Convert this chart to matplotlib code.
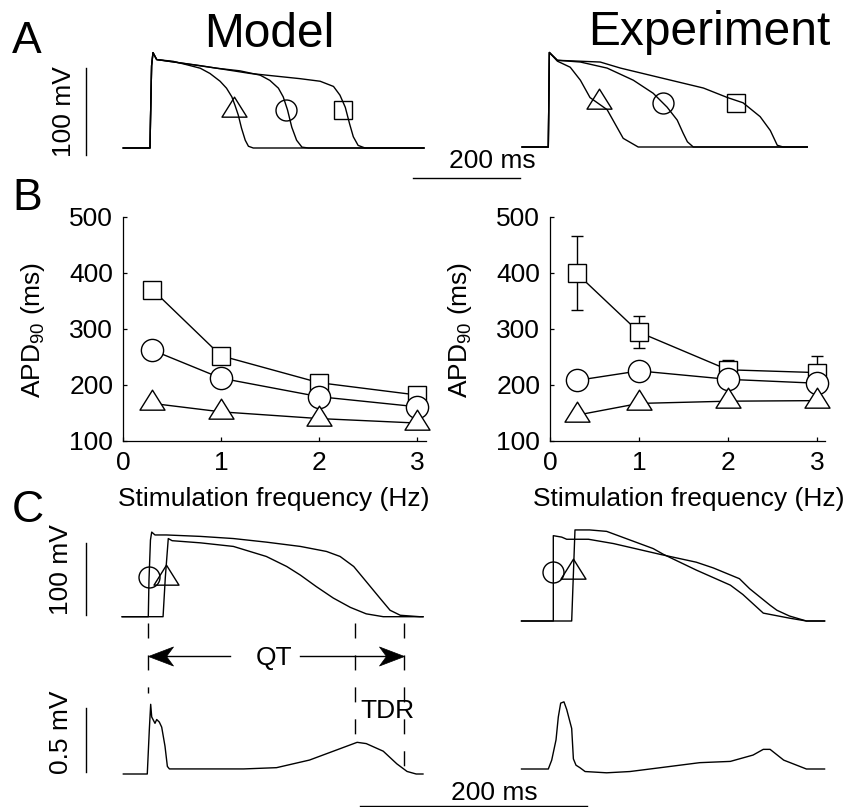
import matplotlib
matplotlib.use("Agg")
import matplotlib.pyplot as plt
from matplotlib.path import Path

plt.rcParams['font.family'] = ['Liberation Sans', 'DejaVu Sans']
plt.rcParams['mathtext.fontset'] = 'custom'
plt.rcParams['mathtext.rm'] = 'Liberation Sans'
plt.rcParams['mathtext.it'] = 'Liberation Sans:italic'
plt.rcParams['mathtext.bf'] = 'Liberation Sans:bold'
plt.rcParams['mathtext.default'] = 'regular'

# ---------------- Panel A: action potentials (time in ms, voltage in mV) ----------------
a_mod_tri_t = [-50, 0, 1, 3, 5.6, 12.5, 43, 69, 94, 112, 131, 143, 153, 159, 165, 171, 178, 184, 193, 512]
a_mod_tri_v = [-85, -85, -50, 10, 25, 17, 15, 11, 7, 1, -8, -16, -26, -36, -47, -62, -76, -83, -85, -85]
a_mod_cir_t = [-50, 0, 1, 3, 5.6, 12.5, 69, 125, 168, 206, 224, 240, 249, 257, 265, 274, 284, 296, 512]
a_mod_cir_v = [-85, -85, -50, 10, 25, 17, 12, 7, 4, -1, -7, -16, -26, -41, -61, -76, -84, -85, -85]
a_mod_sq_t = [-50, 0, 1, 3, 5.6, 12.5, 94, 187, 280, 318, 343, 355, 365, 373, 380, 389, 402, 512]
a_mod_sq_v = [-85, -85, -50, 10, 25, 17, 10, 1, -5, -8, -14, -24, -38, -57, -72, -82, -85, -85]
a_mod_mark_t = [157, 254, 361]
a_mod_mark_v = [-41, -41, -41]

a_exp_tri_t = [-49, 0, 2, 17, 41, 60, 78, 110, 140, 168, 484]
a_exp_tri_v = [-85, -85, 24, 14, 7, -8, -28, -42, -75, -85, -85]
a_exp_cir_t = [-49, 0, 2, 17, 60, 110, 159, 196, 222, 241, 252, 260, 271, 484]
a_exp_cir_v = [-85, -85, 24, 15, 13, 6, -8, -23, -39, -54, -69, -79, -85, -85]
a_exp_sq_t = [-49, 0, 2, 17, 97, 135, 209, 290, 335, 364, 396, 415, 428, 439, 484]
a_exp_sq_v = [-85, -85, 24, 15, 13, 6, -5, -17, -28, -34, -50, -66, -83, -85, -85]
a_exp_mark_t = [95, 215, 351]
a_exp_mark_v = [-33, -34, -34]

# ---------------- Panel B: APD90 vs stimulation frequency ----------------
freq = [0.3, 1, 2, 3]
b_mod_sq = [370, 252, 204, 182]
b_mod_cir = [262, 212, 179, 161]
b_mod_tri = [167, 152, 140, 132]
b_exp_sq = [399, 294, 227, 222]
b_exp_sq_err = [66, 29, 17, 30]
b_exp_cir = [208, 225, 210, 203]
b_exp_tri = [146, 167, 171, 172]

# ---------------- Panel C: transmural APs and pseudo-ECG ----------------
c_mod_cir_t = [-23, 0, 0.6, 1.9, 3, 5.9, 16, 46, 75, 104, 134, 157, 169, 181, 192, 204, 213, 222, 239, 242]
c_mod_cir_v = [-85, -85, -34, 22, 33, 29, 29, 27, 24, 19, 13, 6, -1, -15, -36, -59, -76, -83, -85, -85]
c_mod_tri_t = [-23, 13, 15, 17.6, 21, 46, 75, 104, 122, 134, 148, 163, 178, 192, 207, 242]
c_mod_tri_v = [-85, -85, -30, 24, 21, 18, 13, -1, -15, -27, -43, -59, -72, -81, -85, -85]
c_mod_mark_t = [0.9, 15.9]
c_mod_mark_v = [-30, -31]
c_mod_ecg_t = [-22, -0.9, 0.9, 2.1, 3, 5.9, 7.4, 9.7, 11.8, 14.7, 16.8, 18.6, 25, 84, 113, 142,
               166, 184, 192, 207, 219, 228, 236, 242]
c_mod_ecg_v = [0, 0, 0.35, 0.55, 0.45, 0.40, 0.43, 0.41, 0.37, 0.22, 0.06, 0.04, 0.04, 0.04, 0.05, 0.11,
               0.19, 0.25, 0.24, 0.18, 0.08, 0.02, 0, 0]

c_exp_cir_t = [-28, 0, 0, 7.4, 11.8, 31, 53, 94, 126, 141, 164, 173, 191, 197, 208, 223, 239]
c_exp_cir_v = [-85, -85, 34, 32, 29, 29, 23, 8, -3, -11, -26, -40, -63, -70, -78, -85, -85]
c_exp_tri_t = [-28, 16.2, 19.1, 32, 47, 67.5, 88, 97, 126, 156, 167, 185, 208, 223, 239]
c_exp_tri_v = [-85, -85, 42, 42, 40, 28, 16, 8, -14, -35, -48, -74, -81, -85, -85]
c_exp_mark_t = [-0.5, 17.1]
c_exp_mark_v = [-17, -17]
c_exp_ecg_t = [-28, -4.4, -1.4, 2.4, 4.4, 6.5, 9.4, 11.8, 16.2, 17.7, 20, 23.5, 28, 47, 67.5, 94,
               129, 156, 176, 185, 191, 203, 223, 239]
c_exp_ecg_v = [0, 0, 0.07, 0.23, 0.41, 0.52, 0.53, 0.47, 0.32, 0.08, 0.03, 0.01, -0.02, -0.03, -0.02, 0.01,
               0.05, 0.06, 0.11, 0.155, 0.155, 0.07, 0, 0]

# QT onset, end of earliest repolarisation, end of latest repolarisation (ms)
qt_marks = [0, 182, 225]

# ---------------- figure setup ----------------
W, H = 849, 807
fig = plt.figure(figsize=(W / 100, H / 100), dpi=100)
LW = 1.0
FS = 19

# triangle marker centred on its centroid
TRI = Path([(-0.9375, -0.5), (0.9375, -0.5), (0.0, 1.0), (0.0, 0.0)],
           [Path.MOVETO, Path.LINETO, Path.LINETO, Path.CLOSEPOLY])
# slender concave arrow heads with the tip at the origin
HEAD_L = Path([(0, 0), (1, 0.38), (0.72, 0), (1, -0.38), (0, 0)],
              [Path.MOVETO, Path.LINETO, Path.LINETO, Path.LINETO, Path.CLOSEPOLY])
HEAD_R = Path([(0, 0), (-1, 0.38), (-0.72, 0), (-1, -0.38), (0, 0)],
              [Path.MOVETO, Path.LINETO, Path.LINETO, Path.LINETO, Path.CLOSEPOLY])

A_MS, A_MV = 107 / 200, 86.7 / 100     # pixels per ms / per mV in panel A
C_MS, C_MV = 227 / 200, 71.7 / 100     # pixels per ms / per mV in panel C
C_ECG = 126.7                          # pixels per mV of pseudo-ECG


def px_axes(left, top, right, bottom):
    return fig.add_axes([left / W, 1 - bottom / H, (right - left) / W, (bottom - top) / H])


def trace_axes(box, origin_px, origin_val, px_per_x, px_per_y):
    left, top, right, bottom = box
    ax = px_axes(left, top, right, bottom)
    x0, y0 = origin_px
    xv, yv = origin_val
    ax.set_xlim(xv + (left - x0) / px_per_x, xv + (right - x0) / px_per_x)
    ax.set_ylim(yv + (y0 - bottom) / px_per_y, yv + (y0 - top) / px_per_y)
    ax.axis('off')
    ax.patch.set_alpha(0)
    return ax


def to_data(ax, xp, yp):
    return ax.transData.inverted().transform((xp, H - yp))


def fig_text(xp, yp, s, **kw):
    kw.setdefault('fontsize', FS)
    fig.text(xp / W, 1 - yp / H, s, **kw)


def trace(ax, t, v):
    ax.plot(t, v, color='k', lw=LW, clip_on=False, solid_joinstyle='round')


def open_marks(ax, t, v, kinds):
    for ti, vi, (mk, ms) in zip(t, v, kinds):
        ax.plot([ti], [vi], ls='none', marker=mk, ms=ms, mfc='none', mec='k', mew=LW, clip_on=False)


def vbar(ax, xp, yp_bottom, length):
    t0, v0 = to_data(ax, xp, yp_bottom)
    ax.plot([t0, t0], [v0, v0 + length], color='k', lw=LW, clip_on=False)


def hbar(ax, xp_left, yp, length):
    t0, v0 = to_data(ax, xp_left, yp)
    ax.plot([t0, t0 + length], [v0, v0], color='k', lw=LW, clip_on=False)


KINDS3 = [(TRI, 19.2), ('o', 15.1), ('s', 12.5)]
KINDS2 = [('o', 15.1), (TRI, 19.2)]

# ---------------- Panel A ----------------
axA1 = trace_axes((40, 40, 432, 200), (150, 148), (0, -85), A_MS, A_MV)
axA2 = trace_axes((432, 40, 845, 200), (548.3, 147), (0, -85), A_MS, A_MV)
for t, v in [(a_mod_tri_t, a_mod_tri_v), (a_mod_cir_t, a_mod_cir_v), (a_mod_sq_t, a_mod_sq_v)]:
    trace(axA1, t, v)
open_marks(axA1, a_mod_mark_t, a_mod_mark_v, KINDS3)
for t, v in [(a_exp_tri_t, a_exp_tri_v), (a_exp_cir_t, a_exp_cir_v), (a_exp_sq_t, a_exp_sq_v)]:
    trace(axA2, t, v)
open_marks(axA2, a_exp_mark_t, a_exp_mark_v, KINDS3)

vbar(axA1, 86, 155, 100)
fig_text(64, 111.7, '100 mV', rotation=90, ha='center', va='center')
hbar(axA2, 413, 178, 200)
fig_text(492, 168, '200 ms', ha='center', va='baseline')

# ---------------- Panel B ----------------
axB1 = px_axes(123, 216.7, 426, 441)
axB2 = px_axes(550, 216.7, 825, 441)
for ax in (axB1, axB2):
    ax.patch.set_alpha(0)
    ax.spines[['top', 'right']].set_visible(False)
    for s in ('left', 'bottom'):
        ax.spines[s].set_linewidth(0.9)
    ax.set_xlim(0, 3.09)
    ax.set_ylim(100, 500)
    ax.set_xticks([0, 1, 2, 3])
    ax.set_yticks([100, 200, 300, 400, 500])
    ax.tick_params(direction='in', length=3, width=0.9, labelsize=FS, pad=7)
    ax.set_xlabel('Stimulation frequency (Hz)', fontsize=FS)
    ax.xaxis.label.set_va('baseline')
    ax.set_ylabel('APD$_{90}$ (ms)', fontsize=FS)
    ax.yaxis.label.set_va('center')
    ax.yaxis.label.set_ha('center')

axB1.xaxis.set_label_coords(0.498, -0.290)
axB2.xaxis.set_label_coords(0.505, -0.290)
axB1.yaxis.set_label_coords(-0.297, 0.495)
axB2.yaxis.set_label_coords(-0.327, 0.495)

axB2.errorbar(freq, b_exp_sq, yerr=b_exp_sq_err, fmt='none', ecolor='k', elinewidth=LW,
              capsize=4, capthick=LW, clip_on=False)
for ax, series in [(axB1, (b_mod_sq, b_mod_cir, b_mod_tri)), (axB2, (b_exp_sq, b_exp_cir, b_exp_tri))]:
    for vals, (mk, ms) in zip(series, [('s', 13), ('o', 16), (TRI, 19.2)]):
        ax.plot(freq, vals, color='k', lw=LW, marker=mk, ms=ms, mfc='white', mec='k', mew=LW,
                clip_on=False)

# ---------------- Panel C ----------------
axC1 = trace_axes((40, 515, 432, 628), (148.3, 616.7), (0, -85), C_MS, C_MV)
axC2 = trace_axes((432, 515, 845, 628), (553.3, 621), (0, -85), C_MS, C_MV)
axE1 = trace_axes((40, 628, 432, 807), (148.3, 774), (0, 0), C_MS, C_ECG)
axE2 = trace_axes((432, 628, 845, 807), (553.3, 769), (0, 0), C_MS, C_ECG)

trace(axC1, c_mod_cir_t, c_mod_cir_v)
trace(axC1, c_mod_tri_t, c_mod_tri_v)
open_marks(axC1, c_mod_mark_t, c_mod_mark_v, KINDS2)
trace(axC2, c_exp_cir_t, c_exp_cir_v)
trace(axC2, c_exp_tri_t, c_exp_tri_v)
open_marks(axC2, c_exp_mark_t, c_exp_mark_v, KINDS2)
trace(axE1, c_mod_ecg_t, c_mod_ecg_v)
trace(axE2, c_exp_ecg_t, c_exp_ecg_v)

vbar(axC1, 86, 615, 100)
fig_text(61, 570, '100 mV', rotation=90, ha='center', va='center')
vbar(axE1, 86, 771.7, 0.5)
fig_text(61, 732.5, '0.5 mV', rotation=90, ha='center', va='center')
hbar(axE1, 360, 805.5, 200)
fig_text(494.5, 800, '200 ms', ha='center', va='baseline')

# dashed guides for QT interval and transmural dispersion
e_top = to_data(axE1, 0, 623)[1]
for t, yp_end in zip(qt_marks, [693, 735, 772]):
    e_end = to_data(axE1, 0, yp_end)[1]
    axE1.plot([t, t], [e_top, e_end], color='k', lw=LW, ls=(0, (10.8, 12.2)), clip_on=False)

# QT double arrow split around its label
e_qt = to_data(axE1, 0, 656)[1]
t_left = to_data(axE1, 230, 0)[0]
t_right = to_data(axE1, 300, 0)[0]
axE1.plot([qt_marks[0] + 4, t_left], [e_qt, e_qt], color='k', lw=LW, clip_on=False)
axE1.plot([t_right, qt_marks[2] - 4], [e_qt, e_qt], color='k', lw=LW, clip_on=False)
axE1.plot([qt_marks[0]], [e_qt], ls='none', marker=HEAD_L, ms=36, mfc='k', mec='k', mew=0.5, clip_on=False)
axE1.plot([qt_marks[2]], [e_qt], ls='none', marker=HEAD_R, ms=36, mfc='k', mec='k', mew=0.5, clip_on=False)
fig_text(274.2, 665, 'QT', ha='center', va='baseline')
fig_text(360.7, 718, 'TDR', ha='left', va='baseline')

# ---------------- titles and panel letters ----------------
fig_text(269, 46.7, 'Model', fontsize=34.5, ha='center', va='baseline')
fig_text(709, 45, 'Experiment', fontsize=34.5, ha='center', va='baseline')
fig_text(12, 53, 'A', fontsize=32, ha='left', va='baseline')
fig_text(12, 210, 'B', fontsize=32, ha='left', va='baseline')
fig_text(12, 522, 'C', fontsize=32, ha='left', va='baseline')

fig.savefig('out.png', dpi=100)
